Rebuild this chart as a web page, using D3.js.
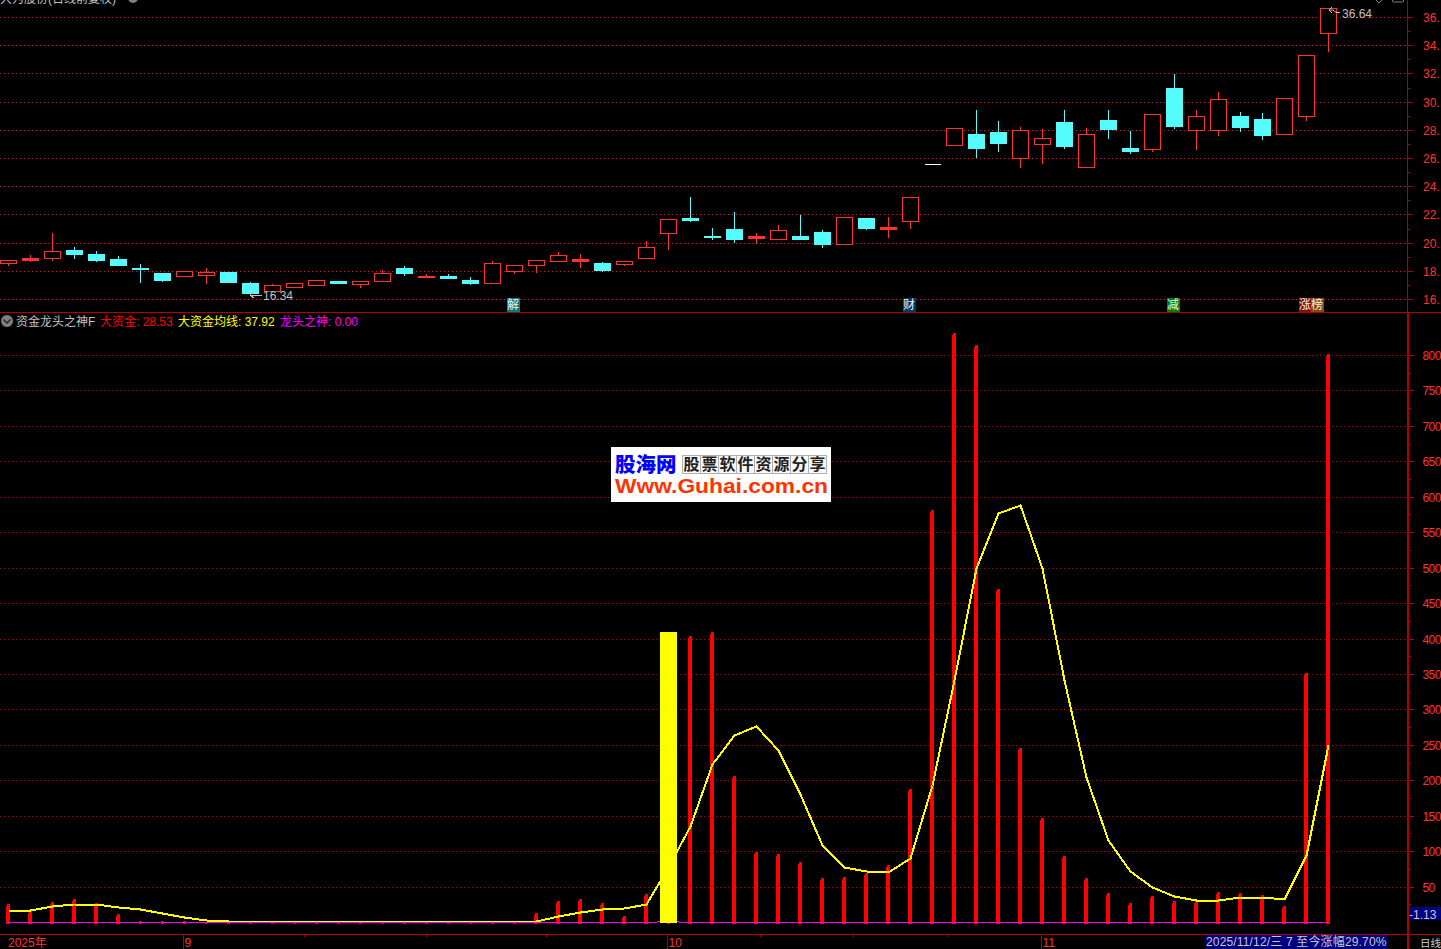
<!DOCTYPE html>
<html><head><meta charset="utf-8">
<script src="https://cdnjs.cloudflare.com/ajax/libs/d3/7.8.5/d3.min.js"></script>
<style>html,body{margin:0;padding:0;background:#000;overflow:hidden}svg{display:block}
text{font-family:"Liberation Sans","Noto Sans CJK SC",sans-serif;font-size:12px}</style>
</head><body><svg id="c" width="1441" height="949"></svg>
<script>
// Candles (index 0..60)
const opens =[18.54,18.75,18.90,19.51,19.16,18.87,18.23,17.81,17.62,17.69,17.88,17.10,16.56,16.84,16.98,17.31,17.05,17.26,18.23,17.55,17.60,17.38,17.12,17.97,18.40,18.68,18.68,18.52,18.47,18.90,20.67,21.71,20.50,21.00,20.36,20.24,20.50,20.72,19.89,21.78,21.00,21.52,25.59,26.91,27.67,27.81,25.99,26.98,28.52,25.35,28.73,26.74,26.63,31.00,27.97,27.97,29.01,28.80,27.69,28.97,34.85];
const closes=[18.78,18.92,19.42,19.16,18.80,18.38,18.12,17.38,18.00,17.93,17.24,16.46,17.00,17.15,17.36,17.10,17.29,17.86,17.81,17.60,17.48,17.17,18.56,18.42,18.78,19.13,18.85,18.09,18.71,19.70,21.69,21.57,20.43,20.29,20.50,20.91,20.29,19.87,21.83,21.07,21.14,23.25,25.59,28.14,26.74,27.03,28.00,27.43,26.82,27.71,28.09,26.53,29.13,28.30,28.99,30.20,28.23,27.60,30.27,33.32,36.64];
const highs =[18.87,19.16,20.72,19.79,19.44,19.09,18.52,17.81,18.09,18.30,17.88,17.31,17.17,17.15,17.45,17.38,17.38,18.14,18.38,17.81,17.81,17.60,18.80,18.42,18.78,19.37,19.23,18.73,18.80,20.15,21.69,23.27,21.14,22.21,20.72,21.35,22.06,20.93,21.83,21.78,21.92,23.25,25.59,28.14,29.44,28.66,28.30,28.16,29.44,28.23,29.51,28.02,29.13,32.06,29.44,30.72,29.30,29.23,30.27,33.32,36.64];
const lows  =[18.40,18.66,18.80,18.94,18.73,18.38,17.24,17.31,17.62,17.17,17.24,16.34,16.56,16.84,16.98,17.10,16.82,17.26,17.67,17.55,17.48,17.03,17.12,17.81,17.95,18.68,18.30,18.02,18.38,18.90,19.58,21.50,20.22,20.01,19.98,20.24,20.22,19.72,19.89,20.93,20.43,21.07,25.59,26.91,26.04,26.53,25.33,25.61,26.74,25.35,27.45,26.39,26.53,28.16,26.67,27.60,27.88,27.38,27.69,28.66,33.62];
// Indicator panel
const bigFunds=[24.7,16.2,28.9,33,27,10.6,2,2,2,0.3,0.3,0.3,0.3,0.3,0.3,0.3,0.3,0.3,0.3,0.3,0.3,0.3,0.3,0.3,12,29,33,27.5,9,40,0.3,404,409,206.6,99,96.6,85,61.4,62.8,69.8,81,188,582,831.5,814.5,470,246,147.4,93.8,61.4,41.6,27.5,36,30,29,43,41.6,37.4,21.9,352,802];
const fundAvg=[17.6,17.6,21.9,24.7,24.7,20.9,18.6,12,6.8,2.5,1.2,1.2,1.2,1.2,1.2,1.2,1.2,1.2,1.2,1.2,1.2,1.2,1.2,1.2,2.1,7.8,14.8,19,19.5,25.1,76.9,136,223.6,264.5,277,243,180,109,78,72.6,71,91,194,342,500,577.6,589,500,342,204,116,72.6,50,37,31.7,31.7,34.6,34.6,33,95,250];
const dragon=[0,0,0,0,0,0,0,0,0,0,0,0,0,0,0,0,0,0,0,0,0,0,0,0,0,0,0,0,0,0,1.4,0,0,0,0,0,0,0,0,0,0,0,0,0,0,0,0,0,0,0,0,0,0,0,0,0,0,0,0,0,0];
const dragonBar=[{i:30,v:409}];
// Axis ticks and labels
const priceTicks=[36,34,32,30,28,26,24,22,20,18,16];
const priceMinor=[35,33,31,29,27,25,23,21,19,17];
const fundTicks=[800,750,700,650,600,550,500,450,400,350,300,250,200,150,100,50];
const fundMinor=[775,725,675,625,575,525,475,425,375,325,275,225,175,125,75,25];
const monthTicks=[{i:8,t:"9"},{i:30,t:"10"},{i:47,t:"11"}];
const minorDates=[13.45,19,24.45,34.2,38.4,42.7];
const tags=[{i:23,t:"解",c:"#007f7f"},{i:41,t:"财",c:"#00386e"},{i:53,t:"减",c:"#008000"},{i:59,t:"涨",c:"#8b0a0a"},{i:59.55,t:"榜",c:"#8b4a00"}];
const legend=[{x:100,t:"大资金: 28.53",c:"#ff0000"},{x:178,t:"大资金均线: 37.92",c:"#ffff00"},{x:280,t:"龙头之神: 0.00",c:"#ff00ff"}];
const adChars=["股","票","软","件","资","源","分","享"];

const RED="#ff3232",CYAN="#54fcfc",FRAME="#b00000";
const svg=d3.select("#c");
const x=d3.scaleLinear().domain([0,60]).range([8,1328]);
const yP=d3.scaleLinear().domain([16,36]).rangeRound([299,17]);
const yF=d3.scaleLinear().domain([0,800]).rangeRound([922,355]);
const crisp=g=>g.attr("shape-rendering","crispEdges");

// grid
const grid=svg.append("g").call(crisp);
grid.selectAll(".a").data(priceTicks).join("line").attr("x1",0).attr("x2",1407)
 .attr("y1",d=>yP(d)+.5).attr("y2",d=>yP(d)+.5).attr("stroke","#d01818").attr("stroke-dasharray","1 3");
grid.selectAll(".b").data(fundTicks).join("line").attr("x1",0).attr("x2",1407)
 .attr("y1",d=>yF(d)+.5).attr("y2",d=>yF(d)+.5).attr("stroke","#b00000").attr("stroke-dasharray","1 3");

// candles
const idx=d3.range(opens.length);
const cg=svg.append("g").call(crisp);
idx.forEach(i=>{
 const o=opens[i],c=closes[i],cx=Math.round(x(i))+.5;
 const top=yP(Math.max(o,c)),bot=yP(Math.min(o,c));
 const flat=o===c, up=c>o;
 const col=flat?"#ffffff":(up?RED:CYAN);
 cg.append("line").attr("x1",cx).attr("x2",cx).attr("y1",yP(highs[i])+.5).attr("y2",top+.5).attr("stroke",col);
 cg.append("line").attr("x1",cx).attr("x2",cx).attr("y1",bot+.5).attr("y2",yP(lows[i])+1).attr("stroke",col);
 if(flat) cg.append("line").attr("x1",cx-8).attr("x2",cx+8).attr("y1",top+.5).attr("y2",top+.5).attr("stroke",col);
 else if(up) cg.append("rect").attr("x",cx-8).attr("y",top+.5).attr("width",16).attr("height",Math.max(bot-top,1)).attr("fill",bot-top<3?RED:"#000").attr("stroke",RED);
 else cg.append("rect").attr("x",cx-8.5).attr("y",top).attr("width",17).attr("height",Math.max(bot-top+1,2)).attr("fill",CYAN);
});

// high / low annotations
const note=(label,tx,ty)=>{
 svg.append("text").attr("x",tx).attr("y",ty).attr("fill","#c0c0c0").text(label);
};
const lowX=x(11),lowY=yP(16.34);
svg.append("path").attr("d",`M${lowX+12},${lowY+1}H${lowX}M${lowX+4},${lowY-2}L${lowX},${lowY+1}L${lowX+4},${lowY+4}`).attr("fill","none").attr("stroke","#c0c0c0").call(crisp);
note("16.34",263,300);
const hiX=x(60),hiY=yP(36.64);
svg.append("path").attr("d",`M${hiX+12},${hiY+4.5}H${hiX+8}L${hiX+5},${hiY+2}H${hiX+1}M${hiX+4},${hiY-1}L${hiX+1},${hiY+2}L${hiX+4},${hiY+5}`).attr("fill","none").attr("stroke","#c0c0c0");
note("36.64",1342,18);

// tags
tags.forEach(d=>{
 const tx=Math.round(x(d.i))-7.5;
 svg.append("rect").attr("x",tx).attr("y",298).attr("width",13).attr("height",14).attr("fill",d.c).call(crisp);
 svg.append("text").attr("x",tx+.5).attr("y",309).attr("fill","#f0f0f0").text(d.t);
});

// red bars
const bg=svg.append("g").call(crisp);
idx.forEach(i=>{
 const cx=Math.round(x(i)),t=yF(bigFunds[i]);
 bg.append("rect").attr("x",cx-1).attr("y",t).attr("width",3).attr("height",924-t).attr("fill","#ff0000");
 if(924-t>3) bg.append("rect").attr("x",cx-2).attr("y",t+2).attr("width",1).attr("height",924-t-2).attr("fill","#ff0000");
});
// yellow bar, average line, magenta line
svg.append("g").call(crisp).selectAll("rect").data(dragonBar).join("rect")
 .attr("x",d=>Math.round(x(d.i))-8).attr("width",17).attr("y",d=>yF(d.v)).attr("height",d=>yF(0)+1-yF(d.v)).attr("fill","#ffff00");
svg.append("path").datum(fundAvg).attr("fill","none").attr("stroke","#ffff00").attr("stroke-width",2).call(crisp)
 .attr("d",d3.line().x((d,i)=>x(i)+.5).y(d=>yF(d)+.5));
svg.append("path").datum(dragon).attr("fill","none").attr("stroke","#ff00ff").attr("stroke-width",1).call(crisp)
 .attr("d",d3.line().x((d,i)=>Math.round(x(i))).y(d=>yF(d)+.5));
svg.append("g").call(crisp).selectAll("rect").data(dragonBar).join("rect")
 .attr("x",d=>Math.round(x(d.i))-8).attr("width",17).attr("y",d=>yF(d.v)).attr("height",d=>yF(0)+1-yF(d.v)).attr("fill","#ffff00");

// frame
const fr=svg.append("g").call(crisp).attr("stroke",FRAME);
fr.append("line").attr("x1",0).attr("x2",1441).attr("y1",312.5).attr("y2",312.5).attr("stroke-width",1);
fr.append("line").attr("x1",0).attr("x2",1441).attr("y1",934.5).attr("y2",934.5);
fr.append("line").attr("x1",1407.5).attr("x2",1407.5).attr("y1",0).attr("y2",313);
fr.append("line").attr("x1",1408).attr("x2",1408).attr("y1",313).attr("y2",949).attr("stroke-width",2);

// right axes
const ax=svg.append("g").call(crisp).attr("stroke",FRAME);
ax.selectAll(".p").data(priceTicks).join("line").attr("x1",1408).attr("x2",1413).attr("y1",d=>yP(d)+.5).attr("y2",d=>yP(d)+.5);
ax.selectAll(".pm").data(priceMinor).join("line").attr("x1",1408).attr("x2",1410).attr("y1",d=>yP(d)+.5).attr("y2",d=>yP(d)+.5);
ax.selectAll(".f").data(fundTicks).join("line").attr("x1",1409).attr("x2",1414).attr("y1",d=>yF(d)+.5).attr("y2",d=>yF(d)+.5);
ax.selectAll(".fm").data(fundMinor).join("line").attr("x1",1409).attr("x2",1411).attr("y1",d=>yF(d)+.5).attr("y2",d=>yF(d)+.5);
svg.selectAll(".pl").data(priceTicks).join("text").attr("x",1423).attr("y",d=>yP(d)+5).attr("fill",RED).text(d=>d+".");
svg.selectAll(".fl").data(fundTicks).join("text").attr("x",1422.5).attr("y",d=>yF(d)+5).attr("fill",RED).attr("letter-spacing",-0.6).text(d=>d);

// x axis
svg.append("text").attr("x",8).attr("y",947).attr("fill",RED).text("2025年");
monthTicks.forEach(d=>{
 const mx=Math.round(x(d.i))-1;
 svg.append("line").attr("x1",mx+.5).attr("x2",mx+.5).attr("y1",935).attr("y2",949).attr("stroke",FRAME).call(crisp);
 svg.append("text").attr("x",mx+1.5).attr("y",947).attr("fill",RED).text(d.t);
});
minorDates.forEach(d=>svg.append("line").attr("x1",Math.round(x(d))+.5).attr("x2",Math.round(x(d))+.5).attr("y1",935).attr("y2",937).attr("stroke",FRAME).call(crisp));

// status boxes
svg.append("rect").attr("x",1205).attr("y",935).attr("width",182).attr("height",14).attr("fill","#000080").call(crisp);
svg.append("text").attr("x",1206).attr("y",946).attr("fill","#c8c8c8").attr("letter-spacing",0.16).text("2025/11/12/三 7 至今涨幅29.70%");
svg.append("text").attr("x",1420).attr("y",947).attr("fill","#d0d0d0").attr("font-size",10).style("font-size","10.5px").text("日线");
svg.append("rect").attr("x",1409).attr("y",907).attr("width",32).attr("height",13).attr("fill","#000080").call(crisp);
svg.append("text").attr("x",1409).attr("y",919).attr("fill","#c8c8c8").text("-1.13");

// headings
svg.append("text").attr("x",0).attr("y",3).attr("fill","#c0c0c0").text("大为股份(日线前复权)");
svg.append("circle").attr("cx",133).attr("cy",-2).attr("r",5).attr("fill","#808080");
svg.append("path").attr("d","M1376,0L1379,3L1382,0").attr("fill","none").attr("stroke","#808080");
svg.append("rect").attr("x",1392.5).attr("y",-4).attr("width",11).attr("height",6).attr("rx",1).attr("fill","none").attr("stroke","#808080");
svg.append("circle").attr("cx",7).attr("cy",321).attr("r",6).attr("fill","#808080");
svg.append("path").attr("d","M3.5,319.5L7,323L10.5,319.5").attr("fill","none").attr("stroke","#222").attr("stroke-width",1.4);
svg.append("text").attr("x",16).attr("y",325.5).attr("fill","#c0c0c0").text("资金龙头之神F");
legend.forEach(d=>svg.append("text").attr("x",d.x).attr("y",325.5).attr("fill",d.c).text(d.t));

// watermark
const wm=svg.append("g");
wm.append("rect").attr("x",611).attr("y",447).attr("width",220).attr("height",55).attr("fill","#fff").call(crisp);
wm.append("text").attr("x",615).attr("y",472).attr("fill","#0000ff").style("font-size","20.5px").style("font-weight",900).text("股海网");
wm.append("rect").attr("x",682.5).attr("y",455.5).attr("width",144).attr("height",18).attr("fill","#f8f8f8").attr("stroke","#b0b0b0").call(crisp);
adChars.forEach((c,i)=>{
 if(i) wm.append("line").attr("x1",682.5+18*i).attr("x2",682.5+18*i).attr("y1",455.5).attr("y2",473.5).attr("stroke","#b0b0b0").call(crisp);
 wm.append("text").attr("x",683.5+18*i).attr("y",470).attr("fill","#222").style("font-size","16px").style("font-weight",700).text(c);
});
wm.append("text").attr("x",615).attr("y",492.5).attr("fill","#ff3300").style("font-size","20.5px").style("font-weight",700).attr("textLength",213).attr("lengthAdjust","spacingAndGlyphs").text("Www.Guhai.com.cn");
</script></body></html>
